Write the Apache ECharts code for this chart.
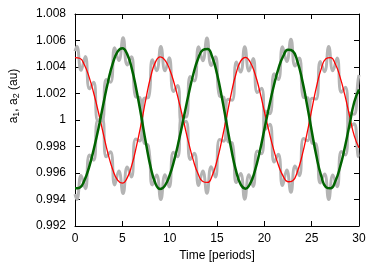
<!DOCTYPE html>
<html>
<head>
<meta charset="utf-8">
<script src="https://cdn.jsdelivr.net/npm/echarts@6/dist/echarts.min.js"></script>
<style>
html,body{margin:0;padding:0;background:#fff;}
#chart{width:382px;height:267px;}
</style>
</head>
<body>
<div id="chart"></div>
<script>
// ---- data ----
const timeGrid = [0,0.5,1,1.5,2,2.5,3,3.5,4,4.5,5,5.5,6,6.5,7,7.5,8,8.5,9,9.5,10,10.5,11,11.5,12,12.5,13,13.5,14,14.5,15,15.5,16,16.5,17,17.5,18,18.5,19,19.5,20,20.5,21,21.5,22,22.5,23,23.5,24,24.5,25,25.5,26,26.5,27,27.5,28,28.5,29,29.5,30];

const a1Mean = [1.00471,1.00466,1.00415,1.00322,1.00196,1.00051,0.99893,0.99743,0.99623,0.99546,
  0.99523,0.99561,0.99659,0.99804,0.99975,1.00163,1.00327,1.00437,1.00476,1.00452,
  1.00381,1.00271,1.00133,0.99981,0.99829,0.99695,0.99594,0.99536,0.99529,0.99582,
  0.99693,0.99845,1.00018,1.00198,1.00347,1.00444,1.00473,1.00438,1.00351,1.00222,
  1.00066,0.99912,0.99773,0.99657,0.99575,0.99534,0.99542,0.99612,0.99735,0.99895,
  1.00074,1.00248,1.00384,1.00462,1.00471,1.00422,1.00324,1.00189,1.00032,0.9988,0.9979];

const a2Mean = [0.99484,0.99490,0.99546,0.99647,0.99785,0.99944,1.00122,1.00292,1.00429,1.00516,
  1.00542,1.00499,1.00388,1.00223,1.00028,0.99822,0.99642,0.99521,0.99479,0.99505,
  0.99583,0.99703,0.99854,1.00022,1.00194,1.00347,1.00462,1.00528,1.00536,1.00475,
  1.00349,1.00176,0.9998,0.99783,0.9962,0.99514,0.99482,0.9952,0.99616,0.99757,
  0.99928,1.001,1.00258,1.0039,1.00483,1.0053,1.00521,1.00441,1.00301,1.00119,
  0.99919,0.99728,0.9958,0.99494,0.99484,0.99538,0.99645,0.99793,0.99965,1.00136,1.0023];

const timeFine = [0,0.20,0.64,1.09,1.53,1.97,2.42,2.86,3.30,3.75,4.19,4.63,5.08,5.52,5.96,6.41,6.85,7.29,7.74,8.18,8.62,9.07,9.51,9.95,10.40,10.84,11.28,11.73,12.17,12.61,13.06,13.50,13.94,14.39,14.83,15.27,15.72,16.16,16.60,17.05,17.49,17.93,18.38,18.82,19.26,19.71,20.15,20.59,21.04,21.48,21.92,22.37,22.81,23.25,23.70,24.14,24.58,25.03,25.47,25.91,26.36,26.80,27.24,27.69,28.13,28.57,29.02,29.46,29.90,30];

const a1Raw = [1.0052,1.00555,1.00375,1.00480,1.00235,1.00284,0.99995,1.00017,0.99722,0.99760,0.99510,
  0.99615,0.99445,0.99645,0.99570,0.99856,0.99842,1.00164,1.00168,1.00454,1.00372,
  1.00555,1.00371,1.00469,1.00215,1.00260,0.99970,0.99990,0.99702,0.99750,0.99505,
  0.99616,0.99447,0.99648,0.99570,0.99852,0.99840,1.00156,1.00150,1.00438,1.00362,
  1.00553,1.00370,1.00465,1.00207,1.00240,0.99931,0.99967,0.99683,0.99741,0.99505,
  0.99622,0.99454,0.99652,0.99580,0.99860,0.99843,1.00165,1.00158,1.00442,1.00365,
  1.00555,1.00372,1.00467,1.00210,1.00248,0.99946,0.99972,0.99728,0.9972];

const a2Raw = [0.9944,0.9940,0.99582,0.99482,0.99735,0.99697,0.99998,0.99992,1.00305,1.00284,1.00546,
  1.00449,1.0062,1.00415,1.00478,1.00175,1.00169,0.99828,0.99808,0.9951,0.99585,
  0.9940,0.99586,0.99494,0.99757,0.99723,1.00025,1.00022,1.00328,1.00295,1.00552,
  1.00448,1.00618,1.00411,1.00478,1.00179,1.00171,0.99837,0.99828,0.99528,0.99596,
  0.99402,0.99587,0.99498,0.99766,0.99745,1.00068,1.00048,1.00349,1.00305,1.00552,
  1.00441,1.0061,1.00407,1.00467,1.0017,1.00168,0.99827,0.99819,0.99524,0.99593,
  0.9940,0.99585,0.99496,0.99762,0.99736,1.00052,1.00043,1.00298,1.0034];

const xTickLabels = ['0','5','10','15','20','25','30'];
const yTickLabels = ['0.992','0.994','0.996','0.998','1','1.002','1.004','1.006','1.008'];

// ---- chart ----
const pairs = (xs, ys) => xs.map((x, i) => [x, ys[i]]);
const FONT = 'Liberation Sans, Arial, Helvetica, sans-serif';
const chart = echarts.init(document.getElementById('chart'), null, {renderer: 'canvas'});

const baseX = {
  type: 'value', min: 0, max: 30, interval: 5,
  splitLine: {show: false},
  axisLine: {show: true, onZero: false, lineStyle: {color: '#000', width: 1}},
  axisTick: {show: true, inside: true, length: 5, lineStyle: {color: '#000'}},
};
const baseY = {
  type: 'value', min: 0.992, max: 1.008, interval: 0.002,
  splitLine: {show: false},
  axisLine: {show: true, onZero: false, lineStyle: {color: '#000', width: 1}},
  axisTick: {show: true, inside: true, length: 5, lineStyle: {color: '#000'}},
};

chart.setOption({
  animation: false,
  backgroundColor: '#fff',
  grid: {left: 75, right: 23, top: 14, bottom: 41, containLabel: false},
  xAxis: [
    Object.assign({}, baseX, {
      position: 'bottom',
      name: 'Time [periods]', nameLocation: 'middle', nameGap: 24,
      nameTextStyle: {color: '#000', fontSize: 12, fontFamily: FONT},
      axisLabel: {color: '#000', fontSize: 12, fontFamily: FONT, margin: 7,
        formatter: (v) => xTickLabels[Math.round(v / 5)]}
    }),
    Object.assign({}, baseX, {position: 'top', axisLabel: {show: false}})
  ],
  yAxis: [
    Object.assign({}, baseY, {
      position: 'left',
      axisLabel: {color: '#000', fontSize: 12, fontFamily: FONT, margin: 9,
        formatter: (v) => yTickLabels[Math.round((v - 0.992) / 0.002)]}
    }),
    Object.assign({}, baseY, {position: 'right', axisLabel: {show: false}})
  ],
  graphic: [{
    type: 'text', x: 14, y: 96, rotation: Math.PI / 2,
    style: {
      text: 'a{s|1}, a{s|2} (au)',
      fill: '#000', fontSize: 12, fontFamily: FONT,
      align: 'center', verticalAlign: 'middle',
      rich: {s: {fontSize: 9, fontFamily: FONT, fill: '#000', padding: [5, 0, 0, 0]}}
    }
  }],
  series: [
    {type: 'line', data: pairs(timeFine, a1Raw), smooth: 0.5, showSymbol: false,
     lineStyle: {color: '#b4b4b4', width: 3}, z: 1},
    {type: 'line', data: pairs(timeFine, a2Raw), smooth: 0.5, showSymbol: false,
     lineStyle: {color: '#b4b4b4', width: 3}, z: 1},
    {type: 'line', data: pairs(timeGrid, a1Mean), smooth: true, showSymbol: false,
     lineStyle: {color: '#ff0000', width: 1.3}, z: 3},
    {type: 'line', data: pairs(timeGrid, a2Mean), smooth: true, showSymbol: false,
     lineStyle: {color: '#006400', width: 2.5}, z: 4}
  ]
});
</script>
</body>
</html>
